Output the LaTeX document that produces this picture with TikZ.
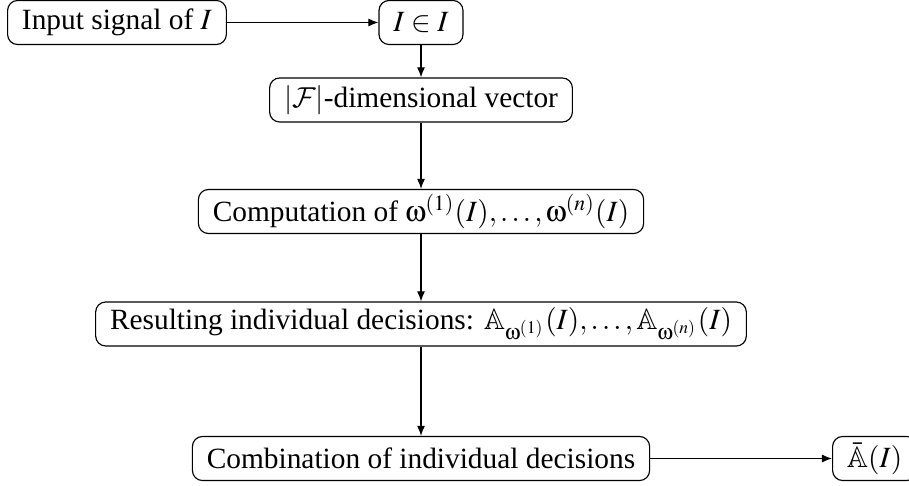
\documentclass[tikz,border=0pt]{standalone}
\usepackage{mathptmx}
\usepackage{amssymb}
\DeclareSymbolFont{upsy}{U}{psy}{m}{n}
\DeclareMathSymbol{\uomega}{\mathord}{upsy}{`w}
\DeclareMathAlphabet{\mathcalcm}{OMS}{cmsy}{m}{n}
\usepackage{fontspec}
\setmainfont{Liberation Serif}
\usetikzlibrary{arrows.meta}
\tikzset{
  box/.style={draw, rounded corners=3.5pt, inner xsep=5pt, inner ysep=1.5pt, minimum height=15.3pt, font=\fontsize{10.2}{12}\selectfont},
  conn/.style={-{Latex[length=3.5pt,width=2.8pt]}, line width=0.4pt}
}
\begin{document}
\begin{tikzpicture}[x=0.3472pt, y=-0.3472pt]
\useasboundingbox (0,0) rectangle (909,485);
\node[box, anchor=west] (in) at (7,22.5) {Input signal of $I$};
\node[box] (iin) at (421,22.5) {$I \in I$};
\node[box] (vec) at (421,100) {$|\mathcalcm{F}|$-dimensional vector};
\node[box] (comp) at (421,211.5) {Computation of $\uomega^{(1)}(I),\ldots,\uomega^{(n)}(I)$};
\node[box] (res) at (421,324) {Resulting individual decisions: $\mathbb{A}_{\uomega^{(1)}}(I),\ldots,\mathbb{A}_{\uomega^{(n)}}(I)$};
\node[box] (comb) at (421,458.5) {Combination of individual decisions};
\node[box, anchor=west] (out) at (832,458.5) {$\bar{\mathbb{A}}(I)$};
\draw[conn] (in) -- (iin);
\draw[conn] (iin) -- (vec);
\draw[conn] (vec) -- (comp);
\draw[conn] (comp) -- (res);
\draw[conn] (res) -- (comb);
\draw[conn] (comb) -- (out);
\end{tikzpicture}
\end{document}
